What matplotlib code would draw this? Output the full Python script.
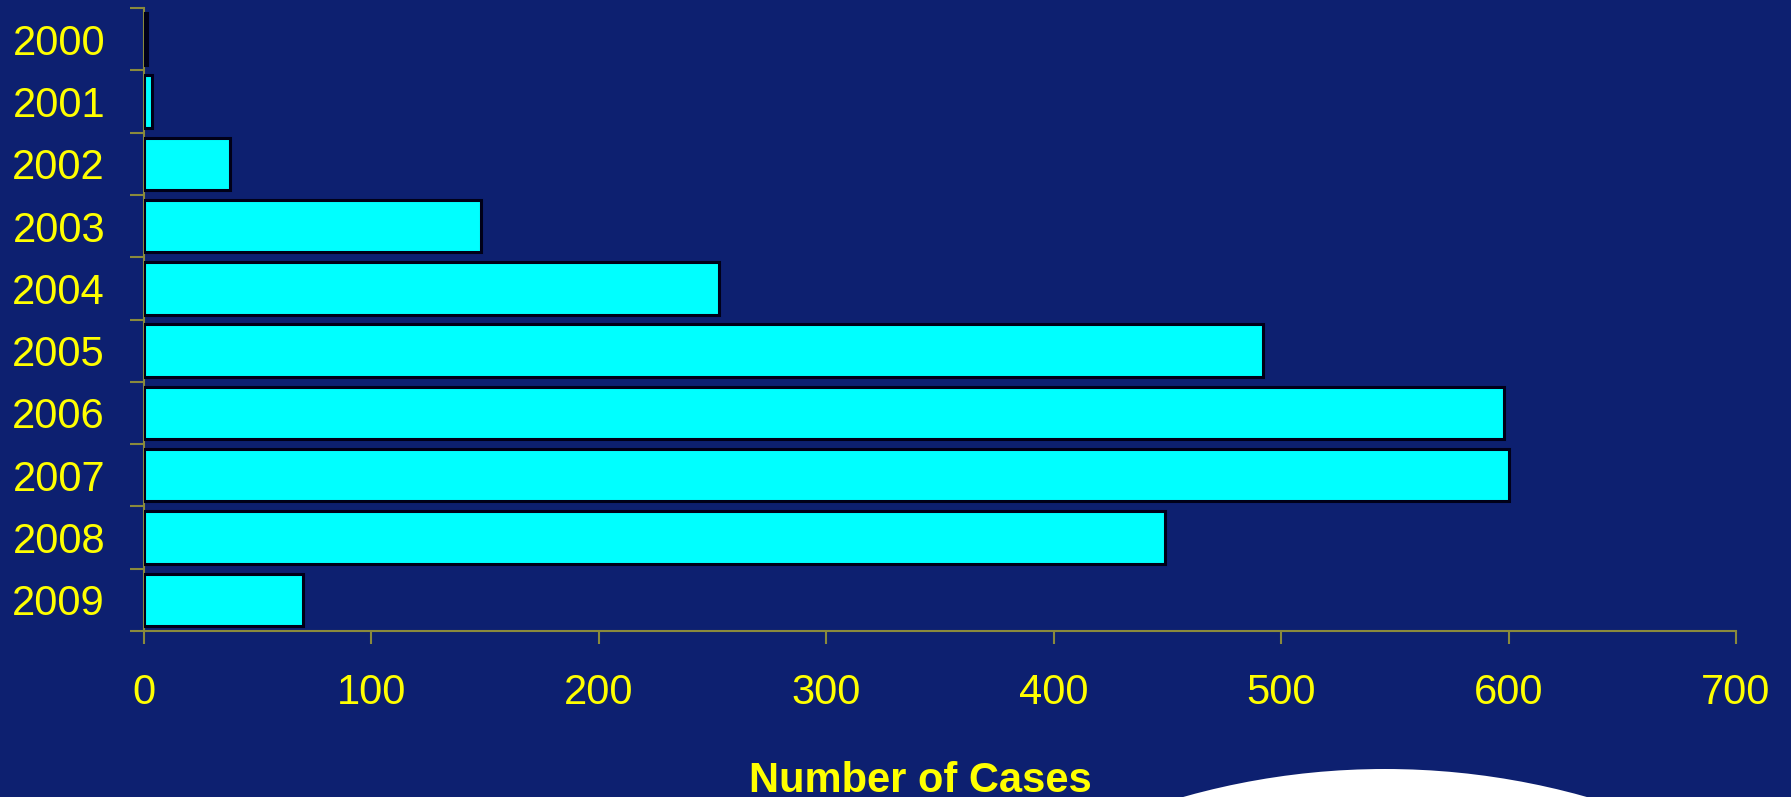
import matplotlib
matplotlib.use("Agg")
import matplotlib.pyplot as plt
from matplotlib.patches import Ellipse
import numpy as np

# yearly case counts
years = ["2000", "2001", "2002", "2003", "2004", "2005", "2006", "2007", "2008", "2009"]
cases = [1.5, 3.5, 38, 148, 253, 492, 598, 600, 449, 70]
x_ticks = [0, 100, 200, 300, 400, 500, 600, 700]

bg = "#0d2070"
yellow = "#ffff00"
axis_col = "#8a8a3c"

plt.rcParams["font.family"] = ["Liberation Sans", "DejaVu Sans"]

W, H = 1791, 797
fig = plt.figure(figsize=(W / 100, H / 100), dpi=100, facecolor=bg)
ax = fig.add_axes([144 / W, 1 - 631 / H, (1736 - 144) / W, (631 - 8) / H])
ax.set_facecolor(bg)

pos = np.arange(len(years))
ax.barh(pos, cases, height=0.84, color="#00ffff", edgecolor="#000018", linewidth=2.2, zorder=3)

ax.set_xlim(0, 700)
ax.set_ylim(len(years) - 0.5, -0.5)

# category boundaries get the ticks, the centres get the labels
ax.set_yticks(np.arange(-0.5, len(years), 1.0))
ax.set_yticklabels([])
ax.set_yticks(pos, minor=True)
ax.set_yticklabels(years, minor=True)
ax.tick_params(axis="y", which="major", length=10, width=1.5, color=axis_col)
ax.tick_params(axis="y", which="minor", length=0, pad=28, labelsize=30, labelcolor=yellow)

ax.set_xticks(x_ticks)
ax.set_xticklabels([str(v) for v in x_ticks])
ax.tick_params(axis="x", length=9, width=1.5, color=axis_col, pad=21, labelsize=30, labelcolor=yellow)

for side in ("top", "right"):
    ax.spines[side].set_visible(False)
for side in ("left", "bottom"):
    ax.spines[side].set_color(axis_col)
    ax.spines[side].set_linewidth(1.5)

fig.text(920 / W, 1 - 792 / H, "Number of Cases", color=yellow, fontsize=30,
         fontweight="bold", ha="center", va="baseline")

# white arc peeking in at the bottom edge
R = 742
arc = Ellipse((1385 / W, 1 - (769 + R) / H), 2 * R / W, 2 * R / H,
              transform=fig.transFigure, facecolor="white", edgecolor="none", zorder=5)
fig.patches.append(arc)

fig.savefig("out.png", dpi=100, facecolor=bg)
